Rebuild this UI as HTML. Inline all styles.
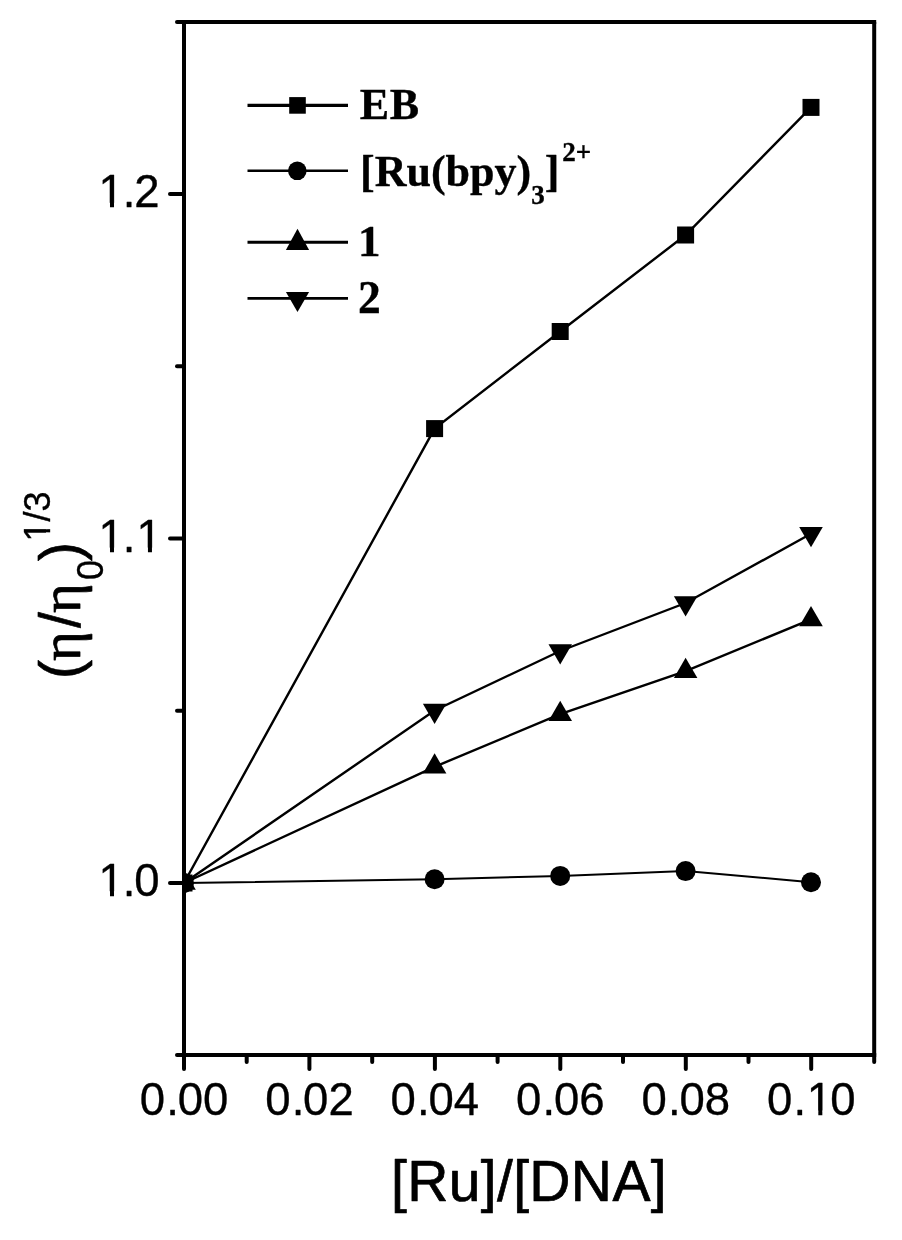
<!DOCTYPE html>
<html lang="en"><head><meta charset="utf-8"><title>Viscosity plot</title>
<style>
html,body{margin:0;padding:0;background:#fff;}
body{width:902px;height:1240px;overflow:hidden;}
svg{display:block;}
.sans{font-family:"Liberation Sans",Arial,sans-serif;}
text{stroke:#000;stroke-width:0.35px;stroke-linejoin:round;}
.big{stroke-width:0.7px;}
.eta{font-family:"Liberation Serif","Times New Roman",serif;}
.serif{font-family:"Liberation Serif","Times New Roman",serif;font-weight:bold;}
</style></head><body>
<svg width="902" height="1240" viewBox="0 0 902 1240">
<rect width="902" height="1240" fill="#fff"/>
<defs><clipPath id="plot"><rect x="184" y="22" width="690" height="1033"/></clipPath></defs>
<g clip-path="url(#plot)" fill="#000">
<polyline points="184.0,883.0 434.6,428.6 560.2,331.5 685.6,235.0 811.0,107.4" fill="none" stroke="#000" stroke-width="2.4"/>
<polyline points="184.0,883.0 434.6,879.2 560.2,875.9 685.6,871.1 811.0,882.2" fill="none" stroke="#000" stroke-width="2.0"/>
<polyline points="184.0,883.0 434.6,766.8 560.2,714.2 685.6,671.2 811.0,619.4" fill="none" stroke="#000" stroke-width="2.4"/>
<polyline points="184.0,883.0 434.6,710.5 560.2,651.0 685.6,603.0 811.0,533.7" fill="none" stroke="#000" stroke-width="2.4"/>
<rect x="175.5" y="874.5" width="17" height="17"/>
<rect x="426.1" y="420.1" width="17" height="17"/>
<rect x="551.7" y="323.0" width="17" height="17"/>
<rect x="677.1" y="226.5" width="17" height="17"/>
<rect x="802.5" y="98.9" width="17" height="17"/>
<circle cx="184.0" cy="883.0" r="10"/>
<circle cx="434.6" cy="879.2" r="10"/>
<circle cx="560.2" cy="875.9" r="10"/>
<circle cx="685.6" cy="871.1" r="10"/>
<circle cx="811.0" cy="882.2" r="10"/>
<polygon points="184.0,869.5 195.8,889.8 172.2,889.8"/>
<polygon points="434.6,753.3 446.4,773.6 422.9,773.6"/>
<polygon points="560.2,700.7 572.0,721.0 548.5,721.0"/>
<polygon points="685.6,657.7 697.4,678.0 673.9,678.0"/>
<polygon points="811.0,605.9 822.8,626.2 799.2,626.2"/>
<polygon points="184.0,896.5 195.8,876.2 172.2,876.2"/>
<polygon points="434.6,724.0 446.4,703.7 422.9,703.7"/>
<polygon points="560.2,664.5 572.0,644.2 548.5,644.2"/>
<polygon points="685.6,616.5 697.4,596.2 673.9,596.2"/>
<polygon points="811.0,547.2 822.8,526.9 799.2,526.9"/>
</g>
<g stroke="#000" stroke-width="4" fill="none" stroke-linecap="round">
<path d="M184 22V1055M874.2 22V1055" stroke-linecap="butt"/>
<path d="M182 22H876.2M182 1055H876.2" stroke-linecap="butt"/>
<path d="M170 883.0H184"/>
<path d="M170 538.5H184"/>
<path d="M170 194.0H184"/>
<path d="M177 1055.0H184"/>
<path d="M177 710.7H184"/>
<path d="M177 366.3H184"/>
<path d="M177 22.0H184"/>
<path d="M184.0 1055V1069"/>
<path d="M246.7 1055V1062"/>
<path d="M309.4 1055V1069"/>
<path d="M372.2 1055V1062"/>
<path d="M434.9 1055V1069"/>
<path d="M497.6 1055V1062"/>
<path d="M560.3 1055V1069"/>
<path d="M623.0 1055V1062"/>
<path d="M685.8 1055V1069"/>
<path d="M748.5 1055V1062"/>
<path d="M811.2 1055V1069"/>
<path d="M874.2 1055V1062"/>
</g>
<g class="sans" font-size="45.5" fill="#000">
<text x="98.55 122.75 134.20" y="895.6">1.0</text>
<text x="98.55 122.75 136.50" y="552.0">1.1</text>
<text x="98.55 122.75 134.20" y="207.2">1.2</text>
<text x="139.72 166.23 177.67 202.97" y="1115.0">0.00</text>
<text x="265.16 291.67 303.11 328.41" y="1115.0">0.02</text>
<text x="390.60 417.11 428.55 453.85" y="1115.0">0.04</text>
<text x="516.04 542.55 553.99 579.29" y="1115.0">0.06</text>
<text x="641.48 667.99 679.43 704.73" y="1115.0">0.08</text>
<text x="766.92 793.43 806.87 830.17" y="1115.0">0.10</text>
</g>
<g fill="#fff"><rect x="99.88" y="891.20" width="10.11" height="6.00"/><rect x="114.01" y="891.20" width="8.98" height="6.00"/><rect x="99.88" y="547.60" width="10.11" height="6.00"/><rect x="114.01" y="547.60" width="8.98" height="6.00"/><rect x="137.83" y="547.60" width="10.11" height="6.00"/><rect x="151.96" y="547.60" width="8.98" height="6.00"/><rect x="99.88" y="202.80" width="10.11" height="6.00"/><rect x="114.01" y="202.80" width="8.98" height="6.00"/><rect x="808.20" y="1110.60" width="10.11" height="6.00"/><rect x="822.33" y="1110.60" width="8.98" height="6.00"/></g>
<text class="sans big" font-size="57" x="529" y="1200.5" text-anchor="middle" letter-spacing="0.35">[Ru]/[DNA]</text>
<g transform="translate(79.7,680) rotate(-90)" fill="#000">
<text class="sans big" font-size="57" x="1.1" y="0">(</text>
<text class="eta big" font-size="57" x="19.1" y="0">η</text>
<text class="sans big" font-size="57" x="52" y="0">/</text>
<text class="eta big" font-size="57" x="67.1" y="0">η</text>
<text class="sans" font-size="36" x="100.1" y="23.4">0</text>
<text class="sans big" font-size="57" x="118.9" y="0">)</text>
<text class="sans" font-size="36" x="138.6" y="-29.9">1/3</text>
<rect fill="#fff" x="140.36" y="-33.59" width="7.29" height="5.29"/><rect fill="#fff" x="150.83" y="-33.59" width="6.75" height="5.29"/>
</g>
<g fill="#000">
<path d="M247.5 105.4H348" stroke="#000" stroke-width="3.3" fill="none"/>
<rect x="289.2" y="97.1" width="16.6" height="16.6"/>
<path d="M247.5 170.8H348" stroke="#000" stroke-width="2.4" fill="none"/>
<circle cx="297.3" cy="170.8" r="9.3"/>
<path d="M247.5 242.3H348" stroke="#000" stroke-width="3.1" fill="none"/>
<polygon points="297.5,228.8 309.1,249.9 285.9,249.9"/>
<path d="M247.5 298.4H348" stroke="#000" stroke-width="2.6" fill="none"/>
<polygon points="297.5,312.0 309.1,292.0 285.9,292.0"/>
</g>
<g class="serif" font-size="44" fill="#000">
<text x="359.7" y="118.9" letter-spacing="0.6">EB</text>
<text x="360" y="185.7">[Ru(bpy)<tspan font-size="27" dy="18.3">3</tspan><tspan dy="-18.3">]</tspan><tspan font-size="27" dy="-24.9" dx="3">2+</tspan></text>
<text x="358" y="255.9" font-size="45">1</text>
<text x="358" y="312.9" font-size="45.5">2</text>
</g>
</svg></body></html>
